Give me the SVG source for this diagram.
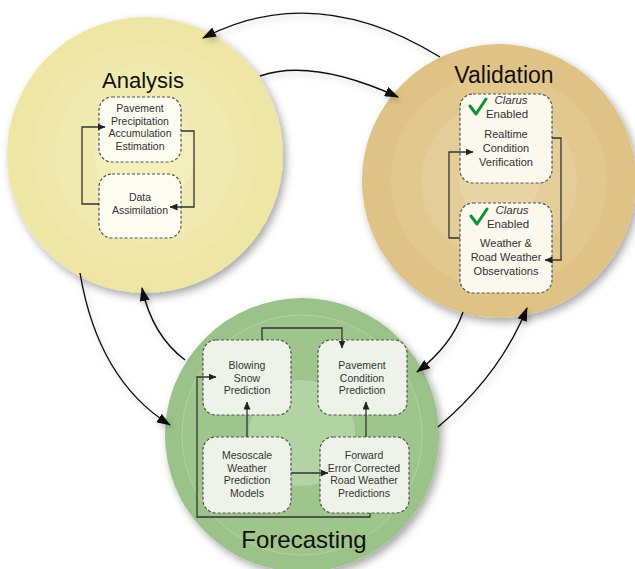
<svg xmlns="http://www.w3.org/2000/svg" width="635" height="569" viewBox="0 0 635 569">
<defs>
<filter id="sh" x="-20%" y="-20%" width="140%" height="140%">
<feDropShadow dx="3" dy="4" stdDeviation="4" flood-color="#000" flood-opacity="0.35"/>
</filter>
<filter id="ash" x="-20%" y="-20%" width="140%" height="140%">
<feDropShadow dx="2" dy="3" stdDeviation="3" flood-color="#000" flood-opacity="0.25"/>
</filter>
<marker id="big" markerUnits="userSpaceOnUse" markerWidth="14" markerHeight="10" refX="13" refY="5" orient="auto">
<path d="M0,0 L14,5 L0,10 z" fill="#111"/>
</marker>
<marker id="sm" markerUnits="userSpaceOnUse" markerWidth="8" markerHeight="7" refX="7.5" refY="3.5" orient="auto">
<path d="M0,0 L8,3.5 L0,7 z" fill="#222"/>
</marker>
<style>
.t{font-family:"Liberation Sans",Arial,sans-serif;fill:#333;text-anchor:middle}
.ti{font-family:"Liberation Sans",Arial,sans-serif;fill:#111;text-anchor:middle}
.bx{stroke:#555;stroke-width:1.2;stroke-dasharray:3 2}
.ba{fill:#fdfcf1}
.bv{fill:#fbf8ee}
.bf{fill:#eef3ea}
.arc{fill:none;stroke:#111;stroke-width:1.4;marker-end:url(#big)}
.lna{fill:none;stroke:#333;stroke-width:1.3;marker-end:url(#sm)}
.chk{fill:none;stroke:#12913a;stroke-width:3;stroke-linecap:round;stroke-linejoin:round}
</style>
</defs>
<rect width="635" height="569" fill="#fff"/>

<g id="analysis">
<circle cx="145" cy="155" r="138" fill="#eee6a4" filter="url(#sh)"/>
<circle cx="145" cy="155" r="112" fill="#efe8aa"/>
<circle cx="145" cy="155" r="90" fill="#f1eab0"/>
<circle cx="145" cy="155" r="50" fill="#f3eeba"/>
<text class="ti" x="143" y="88" font-size="22">Analysis</text>
</g>

<g id="validation">
<circle cx="499" cy="181" r="137" fill="#dfc386" filter="url(#sh)"/>
<circle cx="499" cy="181" r="108" fill="#e2c88f"/>
<circle cx="499" cy="181" r="78" fill="#e5cd99"/>
<circle cx="499" cy="181" r="40" fill="#e9d4a6"/>
<text class="ti" x="504" y="83" font-size="23">Validation</text>
</g>

<g id="forecasting">
<circle cx="302" cy="435" r="137" fill="#9bc389" filter="url(#sh)"/>
<circle cx="302" cy="435" r="120" fill="#9ec58c" stroke="#b2d2a2" stroke-width="1"/>
<circle cx="302" cy="433" r="53" fill="#b2d3a2"/>
<text class="ti" x="304" y="548" font-size="24">Forecasting</text>
</g>

<g id="pavement-precipitation">
<rect class="bx ba" x="99" y="97" width="82" height="65" rx="13"/>
<text class="t" font-size="10.5" x="140" y="111.5">Pavement</text>
<text class="t" font-size="10.5" x="140" y="124.5">Precipitation</text>
<text class="t" font-size="10.5" x="140" y="137">Accumulation</text>
<text class="t" font-size="10.5" x="140" y="150">Estimation</text>
</g>

<g id="data-assimilation">
<rect class="bx ba" x="99" y="174" width="82" height="64" rx="13"/>
<text class="t" font-size="10.5" x="140" y="200.5">Data</text>
<text class="t" font-size="10.5" x="140" y="213.5">Assimilation</text>
</g>

<g id="realtime-verification">
<rect class="bx bv" x="460" y="94" width="92" height="89" rx="13"/>
<path class="chk" d="M470,106 L476,114 L486,99"/>
<text class="t" font-size="11.5" x="511" y="104" font-style="italic">Clarus</text>
<text class="t" font-size="11.5" x="507" y="117.5">Enabled</text>
<text class="t" font-size="11" x="506" y="138">Realtime</text>
<text class="t" font-size="11" x="506" y="152">Condition</text>
<text class="t" font-size="11" x="506" y="166">Verification</text>
</g>

<g id="weather-observations">
<rect class="bx bv" x="460" y="203" width="92" height="90" rx="13"/>
<path class="chk" d="M471,216 L477,224 L487,209"/>
<text class="t" font-size="11.5" x="512" y="214" font-style="italic">Clarus</text>
<text class="t" font-size="11.5" x="508" y="227.5">Enabled</text>
<text class="t" font-size="11" x="506" y="247">Weather &amp;</text>
<text class="t" font-size="11" x="506" y="261">Road Weather</text>
<text class="t" font-size="11" x="506" y="275">Observations</text>
</g>

<g id="blowing-snow">
<rect class="bx bf" x="203" y="340" width="88" height="75" rx="13"/>
<text class="t" font-size="10.5" x="247" y="369">Blowing</text>
<text class="t" font-size="10.5" x="247" y="381.5">Snow</text>
<text class="t" font-size="10.5" x="247" y="394">Prediction</text>
</g>

<g id="pavement-condition">
<rect class="bx bf" x="318" y="340" width="89" height="75" rx="13"/>
<text class="t" font-size="10.5" x="362" y="369">Pavement</text>
<text class="t" font-size="10.5" x="362" y="381.5">Condition</text>
<text class="t" font-size="10.5" x="362" y="394">Prediction</text>
</g>

<g id="mesoscale">
<rect class="bx bf" x="203" y="437" width="88" height="76" rx="13"/>
<text class="t" font-size="10.5" x="247" y="459">Mesoscale</text>
<text class="t" font-size="10.5" x="247" y="471.5">Weather</text>
<text class="t" font-size="10.5" x="247" y="484">Prediction</text>
<text class="t" font-size="10.5" x="247" y="496.5">Models</text>
</g>

<g id="forward-error">
<rect class="bx bf" x="320" y="437" width="89" height="76" rx="13"/>
<text class="t" font-size="10.5" x="364" y="459">Forward</text>
<text class="t" font-size="10.5" x="364" y="471.5">Error Corrected</text>
<text class="t" font-size="10.5" x="364" y="484">Road Weather</text>
<text class="t" font-size="10.5" x="364" y="496.5">Predictions</text>
</g>

<g id="connectors">
<g filter="url(#ash)">
<path class="arc" d="M440,57 Q315,-20 203,38"/>
<path class="arc" d="M260,76 Q312,58 398,97"/>
<path class="arc" d="M80,273 Q98,380 170,425"/>
<path class="arc" d="M185,360 Q152,335 142,288"/>
<path class="arc" d="M463,312 Q452,345 417,372"/>
<path class="arc" d="M438,427 Q500,375 527,308"/>
</g>
<path class="lna" d="M99,204 H82 V127 H105"/>
<path class="lna" d="M181,131 H194 V207 H170"/>
<path class="lna" d="M460,238 H449 V152 H473"/>
<path class="lna" d="M552,138 H561 V260 H545"/>
<path class="lna" d="M262,340 V328 H342 V348"/>
<path class="lna" d="M247,437 V402"/>
<path class="lna" d="M366,437 V402"/>
<path class="lna" d="M291,473 H328"/>
<path class="lna" d="M370,513 V517 H197 V377 H216"/>
</g>
</svg>
